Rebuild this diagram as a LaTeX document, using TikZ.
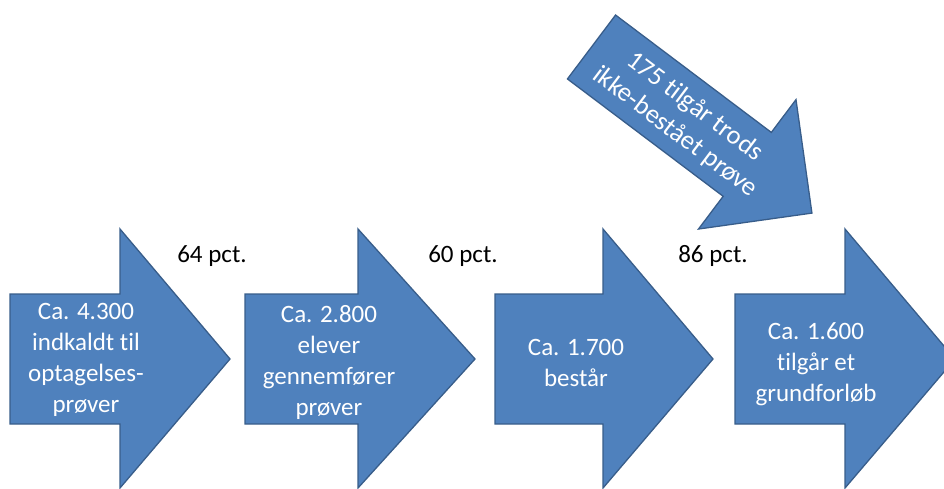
\documentclass[tikz,border=0pt]{standalone}
\usepackage{fontspec}
\setmainfont{Carlito}[Ligatures=NoCommon]
\definecolor{arrowfill}{HTML}{4F81BD}
\definecolor{arrowline}{HTML}{385D8A}
\begin{document}
\begin{tikzpicture}[x=1pt,y=-1pt,
  arrowshape/.style={fill=arrowfill,draw=arrowline,line width=1.3pt,line join=miter},
  arrowtext/.style={text=white,font=\fontsize{25}{31}\selectfont,align=center,inner sep=0pt},
  pcttext/.style={text=black,font=\fontsize{25}{31}\selectfont,inner sep=0pt,anchor=base}]
\useasboundingbox (0,0) rectangle (944,489);
\clip (0,0) rectangle (944,489);
% horizontal arrows
\draw[arrowshape] (10,294) -- (120,294) -- (120,229) -- (230,359) -- (120,488) -- (120,424) -- (10,424) -- cycle;
\draw[arrowshape] (245,294) -- (358,294) -- (358,229) -- (475,359) -- (358,488) -- (358,424) -- (245,424) -- cycle;
\draw[arrowshape] (495,294) -- (603,294) -- (603,229) -- (713,359) -- (603,488) -- (603,424) -- (495,424) -- cycle;
\draw[arrowshape] (735,294) -- (845,294) -- (845,229) -- (955,359) -- (845,488) -- (845,424) -- (735,424) -- cycle;
% diagonal arrow
\begin{scope}[shift={(591.5,47)},rotate=-37]
\draw[arrowshape] (0,-40) -- (195,-40) -- (195,-81) -- (276,0) -- (195,81) -- (195,40) -- (0,40) -- cycle;
\end{scope}
\node[arrowtext] (a1) at (86,360) {Ca. 4.300\\indkaldt til\\optagelses-\\prøver};
\node[arrowtext] (a2) at (329,362) {Ca. 2.800\\elever\\gennemfører\\prøver};
\node[arrowtext] (a3) at (576,363) {Ca. 1.700\\består};
\node[arrowtext] (a4) at (816,364) {Ca. 1.600\\tilgår et\\grundforløb};
\node[arrowtext,font=\fontsize{26.5}{32}\selectfont,rotate=-37] (d) at (685,119.5) {175 tilgår trods\\ikke-bestået prøve};
\node[pcttext] (p1) at (212,262) {64 pct.};
\node[pcttext] (p2) at (463,262) {60 pct.};
\node[pcttext] (p3) at (713,262) {86 pct.};
\end{tikzpicture}
\end{document}
